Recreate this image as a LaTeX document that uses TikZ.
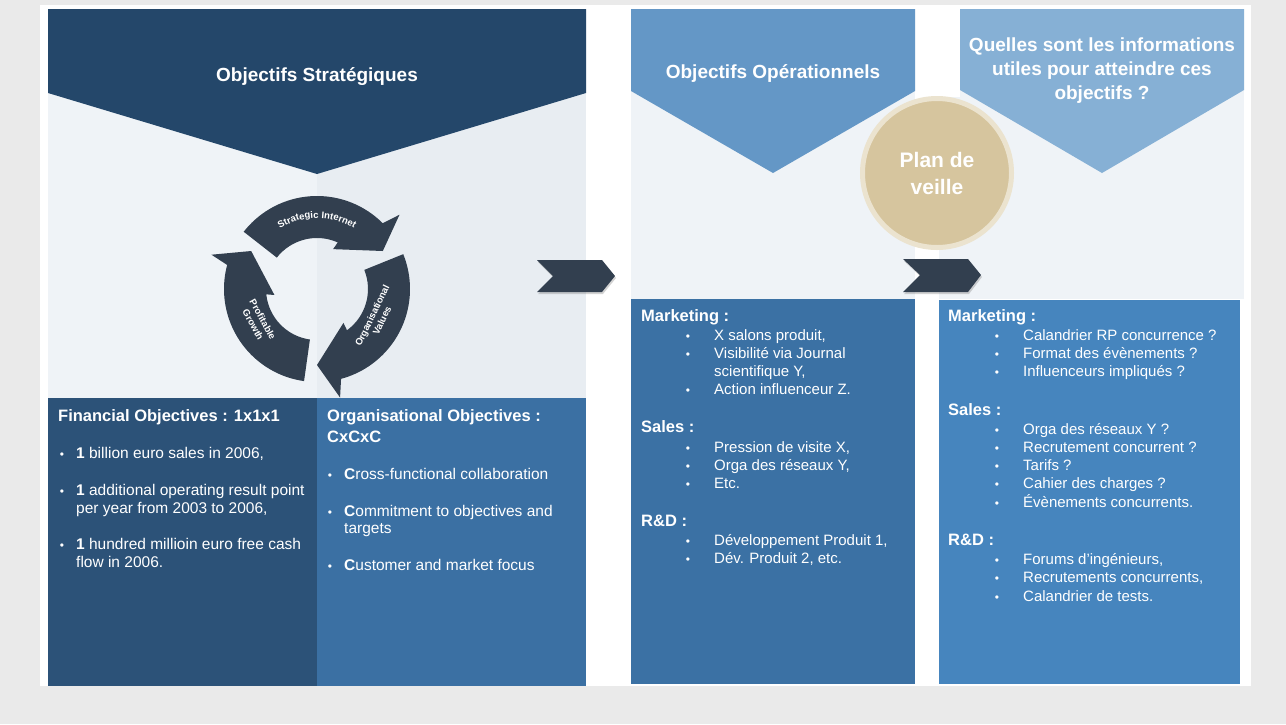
\documentclass[tikz,border=0pt]{standalone}
\usepackage{fontspec}
\setmainfont{Liberation Sans}
\usetikzlibrary{shadows,decorations.text}

\definecolor{pagegray}{HTML}{EAEAEA}
\definecolor{panelbg}{HTML}{EFF3F7}
\definecolor{panelbgb}{HTML}{E8EDF2}
\definecolor{navy}{HTML}{24476A}
\definecolor{finblue}{HTML}{2C5278}
\definecolor{orgblue}{HTML}{3B70A3}
\definecolor{opblue}{HTML}{6497C6}
\definecolor{infoblue}{HTML}{86B0D5}
\definecolor{opbox}{HTML}{3B71A4}
\definecolor{infobox}{HTML}{4685BE}
\definecolor{sand}{HTML}{D6C59E}
\definecolor{sandring}{HTML}{EBE3CF}
\definecolor{slate}{HTML}{323F4F}

\newcommand\cycfont{\bfseries\fontsize{9.5}{11}\selectfont\color{white}}

\begin{document}
\begin{tikzpicture}[x=1pt,y=-1pt,
    title/.style={text=white,font=\bfseries\fontsize{19}{24}\selectfont,align=center,inner sep=0},
    boxhead/.style={text=white,font=\bfseries\fontsize{16.5}{20}\selectfont,anchor=base west,inner sep=0},
    item/.style={text=white,font=\fontsize{15}{18}\selectfont,anchor=base west,inner sep=0},
    bigitem/.style={item,font=\fontsize{15.5}{18}\selectfont},
    dot/.style={text=white,font=\fontsize{12}{14}\selectfont,anchor=base,inner sep=0},
    cyclabel/.style={font=\cycfont,align=center,inner sep=0},
    chevron/.style={fill=slate,drop shadow={opacity=0.35,shadow xshift=1pt,shadow yshift=-2pt}}]
  \useasboundingbox (0,0) rectangle (1286,724);
  \fill[pagegray] (0,0) rectangle (1286,724);
  \fill[white] (40,5) rectangle (1251,686);

  % strategic column
  \fill[panelbg] (48,9) rectangle (317,398);
  \fill[panelbgb] (317,9) rectangle (586,398);
  \fill[navy] (48,9) -- (586,9) -- (586,93) -- (317,174) -- (48,93) -- cycle;
  \node[title,anchor=base] (strat) at (317,81) {Objectifs Stratégiques};
  \fill[finblue] (48,398) rectangle (317,686);
  \fill[orgblue] (317,398) rectangle (586,686);

  % cycle
  \begin{scope}[shift={(317,289)},yscale=-1]
    \foreach \a in {30,-90,150}
      \fill[slate] (\a+112:93) arc[start angle=\a+112, end angle=\a+15, radius=93]
        -- (\a+12:111) -- (\a:76) -- (\a+38:43) -- (\a+36:51)
        arc[start angle=\a+36, end angle=\a+112, radius=51] -- cycle;
  \end{scope}
  \path[decorate,decoration={text along path,text align=center,
      text={|\cycfont|Strategic Internet}}]
    (250.3,264.7) arc[start angle=200, end angle=340, radius=71];
  \node[cyclabel,rotate=64] (ov) at (377,318) {Organisational\\Values};
  \node[cyclabel,rotate=-61] (pg) at (258,322) {Profitable\\Growth};

  % operational column
  \fill[panelbg] (631,9) rectangle (915,299);
  \fill[opblue] (631,9) -- (915,9) -- (915,91) -- (773,173) -- (631,91) -- cycle;
  \node[title,anchor=base] (oper) at (773,78) {Objectifs Opérationnels};
  \fill[opbox] (631,299) rectangle (915,684);

  % information column
  \fill[panelbg] (960,9) rectangle (1244,299);
  \fill[panelbg] (939,97) rectangle (960,299);
  \fill[infoblue] (960,9) -- (1244,9) -- (1244,90) -- (1102,173) -- (960,90) -- cycle;
  \node[title] (info) at (1102,71) {Quelles sont les informations\\utiles pour atteindre ces\\objectifs ?};
  \fill[infobox] (939,300) rectangle (1240,684);

  \node[circle,fill=sand,draw=sandring,line width=5pt,minimum size=149pt,
        text=white,align=center,font=\bfseries\fontsize{21}{27}\selectfont] (veille) at (937,173) {Plan de\\veille};

  \fill[chevron] (537,260) -- (602,260) -- (615,276) -- (602,292) -- (537,292) -- (553,276) -- cycle;
  \fill[chevron] (903,259) -- (968,259) -- (981,275) -- (968,292) -- (903,292) -- (920,275) -- cycle;

  % financial objectives
  \node[boxhead] (fin) at (58,421) {Financial Objectives : 1x1x1};
  \foreach \yy/\txt [count=\i] in {458/{\textbf{1} billion euro sales in 2006,},
      495/{\textbf{1} additional operating result point},
      549/{\textbf{1} hundred millioin euro free cash}}
    {\node[dot] (findot\i) at (62,\yy) {\textbullet};
     \node[bigitem] (finitem\i) at (76,\yy) {\txt};}
  \node[bigitem] (finmore1) at (76,513) {per year from 2003 to 2006,};
  \node[bigitem] (finmore2) at (76,567) {flow in 2006.};

  % organisational objectives
  \node[boxhead] (org) at (327,421) {Organisational Objectives :};
  \node[boxhead] (orgb) at (327,442) {CxCxC};
  \foreach \yy/\txt [count=\i] in {479/{\textbf{C}ross-functional collaboration},
      516/{\textbf{C}ommitment to objectives and},
      570/{\textbf{C}ustomer and market focus}}
    {\node[dot] (orgdot\i) at (330,\yy) {\textbullet};
     \node[bigitem] (orgitem\i) at (344,\yy) {\txt};}
  \node[bigitem] (orgmore) at (344,533) {targets};

  % operational objectives
  \node[boxhead] (opmk) at (641,321) {Marketing :};
  \node[boxhead] (opsa) at (641,432) {Sales :};
  \node[boxhead] (oprd) at (641,526) {R\&D :};
  \foreach \yy/\txt [count=\i] in {340/{X salons produit,}, 358/{Visibilité via Journal},
      394/{Action influenceur Z.}, 452/{Pression de visite X,}, 470/{Orga des réseaux Y,},
      488/{Etc.}, 545/{Développement Produit 1,}, 563/{Dév. Produit 2, etc.}}
    {\node[dot] (opdot\i) at (688,\yy) {\textbullet};
     \node[item] (opitem\i) at (714,\yy) {\txt};}
  \node[item] (opmore) at (714,376) {scientifique Y,};

  % useful information
  \node[boxhead] (inmk) at (948,321) {Marketing :};
  \node[boxhead] (insa) at (948,415) {Sales :};
  \node[boxhead] (inrd) at (948,545) {R\&D :};
  \foreach \yy/\txt [count=\i] in {340/{Calandrier RP concurrence ?}, 358/{Format des évènements ?},
      376/{Influenceurs impliqués ?}, 434/{Orga des réseaux Y ?}, 452/{Recrutement concurrent ?},
      470/{Tarifs ?}, 488/{Cahier des charges ?}, 507/{Évènements concurrents.},
      564/{Forums d’ingénieurs,}, 582/{Recrutements concurrents,}, 601/{Calandrier de tests.}}
    {\node[dot] (indot\i) at (997,\yy) {\textbullet};
     \node[item] (initem\i) at (1023,\yy) {\txt};}
\end{tikzpicture}
\end{document}
